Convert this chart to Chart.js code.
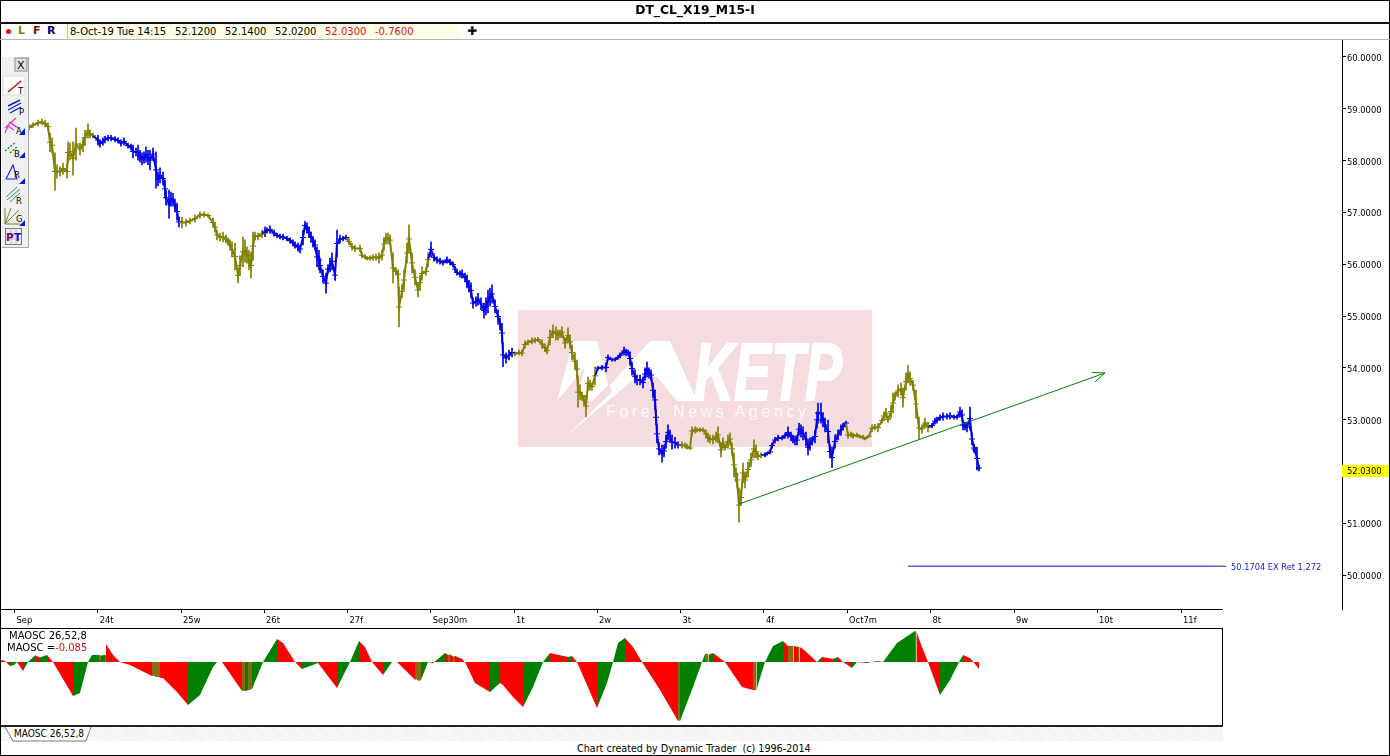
<!DOCTYPE html>
<html><head><meta charset="utf-8">
<script src="https://cdn.jsdelivr.net/npm/chart.js@4/dist/chart.umd.min.js"></script>
<style>
html,body{margin:0;padding:0;background:#fff;overflow:hidden}
#page{position:relative;width:1390px;height:756px;background:#fff;overflow:hidden;font-family:"DejaVu Sans",sans-serif;font-size:10px;color:#000}
#page div,#page canvas,#page svg{position:absolute}
.t{white-space:pre;line-height:12px}
</style></head><body>
<div id="page">
<div id="wm" style="left:518px;top:310px;width:354px;height:137px;background:#f4dcdf"></div>
<svg style="left:518px;top:310px" width="354" height="137" viewBox="518 310 354 137">
<polygon fill="#fff" points="557,401 573,341 597,341 608,385 592,401 577,401 585,367"/>
<polygon fill="#fff" points="597,341 610,385 650,341 670,341 697,401 677,401 657,377 633,380 565,437 612,392"/>
<text x="694" y="400" fill="#fff" stroke="#fff" stroke-width="2" fill-opacity=".96" font-family="Liberation Sans" font-weight="bold" font-style="italic" font-size="82" textLength="148" lengthAdjust="spacingAndGlyphs">KETP</text>
<text x="606" y="417" fill="#fff" fill-opacity=".85" font-family="Liberation Sans" font-size="16" textLength="200">Forex News Agency</text>
</svg>
<canvas id="priceChart" width="1390" height="588" style="left:0;top:40px;width:1390px;height:588px"></canvas>
<div style="left:0;top:609px;width:1223px;height:1px;background:#000"></div>
<canvas id="oscChart" width="1222" height="98" style="left:0;top:628px;width:1222px;height:98px"></canvas>
<div style="left:0;top:628px;width:1223px;height:1px;background:#000"></div>
<div style="left:1222px;top:628px;width:1px;height:98px;background:#000"></div>
<div style="left:0;top:725px;width:1223px;height:2px;background:#222"></div>
<div style="left:0;top:727px;width:1223px;height:14px;background:repeating-linear-gradient(45deg,#f2f2f2 0 1px,#fafafa 1px 2px)"></div>
<svg style="left:0;top:727px" width="100" height="15"><path d="M5 0L13 14H86L91 0" fill="#fff" stroke="#777"/></svg>
<div class="t" style="left:14px;top:728px;font-family:'DejaVu Sans Condensed','DejaVu Sans',sans-serif">MAOSC 26,52,8</div>
<div class="t" style="left:9px;top:630px">MAOSC 26,52,8</div>
<div class="t" style="left:7px;top:642px">MAOSC =<span style="color:#e01020">-0.085</span></div>
<div class="t" style="left:577px;top:743px;font-size:9.6px">Chart created by Dynamic Trader  (c) 1996-2014</div>
<!-- window chrome -->
<div style="left:0;top:0;width:1390px;height:1px;background:#000"></div>
<div style="left:0;top:755px;width:1390px;height:1px;background:#000"></div>
<div style="left:0;top:0;width:1px;height:756px;background:#000"></div>
<div style="left:1389px;top:0;width:1px;height:756px;background:#000"></div>
<div style="left:0;top:22px;width:1390px;height:2px;background:#111"></div>
<div style="left:0;top:39px;width:1390px;height:1px;background:#b4b4b4"></div>
<div class="t" style="left:0;width:1390px;top:4px;text-align:center;font-weight:bold;font-size:12.3px">DT_CL_X19_M15-I</div>
<div style="left:6px;top:29px;width:5px;height:5px;border-radius:50%;background:#e01010"></div>
<div class="t" style="left:18px;top:25px;font-weight:bold;font-size:11px;color:#808000">L</div>
<div class="t" style="left:33px;top:25px;font-weight:bold;font-size:11px;color:#800000">F</div>
<div class="t" style="left:47px;top:25px;font-weight:bold;font-size:11px;color:#000080">R</div>
<div style="left:67px;top:24px;width:391px;height:15px;background:#ffffe8;border-left:1px solid #bbb"></div>
<div class="t" style="left:70px;top:26px">8-Oct-19 Tue 14:15</div>
<div class="t" style="left:175px;top:26px">52.1200</div>
<div class="t" style="left:225px;top:26px">52.1400</div>
<div class="t" style="left:275px;top:26px">52.0200</div>
<div class="t" style="left:325px;top:26px;color:#e01010">52.0300</div>
<div class="t" style="left:375px;top:26px;color:#e01010">-0.7600</div>
<div class="t" style="left:467px;top:25px;font-weight:bold;font-size:12px">✚</div>
<!-- tool palette -->
<svg style="left:2px;top:57px" width="28" height="192" viewBox="2 57 28 192" font-family="DejaVu Sans" font-size="8.5">
<rect x="2" y="57" width="26" height="190" fill="#f0f0f0"/>
<path d="M28.5 57V247.5H2" fill="none" stroke="#a8a8a8"/>
<rect x="15" y="58" width="12" height="13" fill="#e0e0e0" stroke="#888"/><text x="17" y="69" font-size="11">X</text>
<rect x="3" y="76" width="22" height="19" fill="#fbfbfb" stroke="#ddd"/>
<path d="M8 92L21 81" stroke="#e01010" stroke-width="1.6"/><text x="18" y="94">T</text>
<path d="M8 106L20 100M8 110L21 103M10 113L21 107" stroke="#1020d0" stroke-width="1.4"/><text x="19" y="115">P</text>
<path d="M5 128L16 118M5 133L10 122L18 128M8 126L14 130M11 123L16 127" stroke="#e030d0" stroke-width="1.1" fill="none"/><text x="16" y="134">A</text>
<path d="M5 151L16 142M10 153L17 147" stroke="#108020" stroke-width="1.2" stroke-dasharray="2 1.5"/><text x="14" y="157">B</text>
<path d="M6 179L13 165L17 179H6" stroke="#1020d0" stroke-width="1.1" fill="none"/><text x="14" y="178">R</text>
<path d="M6 197L17 187M7 200L20 189M10 202L20 193" stroke="#209090" fill="none"/><text x="16" y="204">R</text>
<path d="M5 208V224H20M5 224L11 208M5 224L19 210" stroke="#808020" fill="none"/><text x="16" y="222">G</text>
<path d="M25 135V128L19 135ZM25 158V152L19 158ZM25 184V178L19 184ZM25 226V220L19 226Z" fill="#1010e0"/>
<rect x="5.5" y="228.5" width="16" height="16" fill="#eee" stroke="#777"/>
<path d="M5 234H22M5 239H22M11 228V245M16 228V245" stroke="#aaa" stroke-width=".7"/>
<text x="6" y="241" font-size="10.5" font-weight="bold" fill="#800080">P</text><text x="14" y="241" font-size="10.5" font-weight="bold" fill="#1010e0">T</text>
</svg>
</div>
<script>
// ---------- price pane data (15-minute bars, sampled along the slot axis) ----------
const barSlots=[29,33,38,42,45,48,50,52,55,57,60,63,67,68,70,73,76,80,83,85,88,90,93,
98,100,103,105,108,111,115,118,121,124,128,131,133,136,138,140,142,144,146,148,150,153,156,158,160,163,165,166,169,171,173,175,177,179,
182,186,190,195,200,204,208,213,215,217,220,223,226,228,230,232,235,238,240,243,245,247,249,251,253,255,258,262,
265,267,270,274,277,280,283,287,290,293,295,298,300,303,305,307,309,311,313,315,317,319,320,323,326,328,330,332,335,337,340,343,346,
349,352,355,360,362,365,367,370,373,376,379,382,384,386,388,390,393,396,398,399,402,404,407,409,412,415,418,420,422,426,428,
431,434,437,440,443,447,450,453,455,457,460,462,465,467,469,471,473,476,478,481,484,486,488,490,492,495,498,500,502,503,506,509,512,
515,519,522,525,528,532,535,538,542,545,547,550,553,556,558,560,562,565,568,570,572,575,577,578,580,582,584,586,588,590,592,595,
598,602,606,608,612,615,618,620,624,626,628,630,632,635,637,640,643,645,647,649,651,653,655,656,657,659,662,664,666,668,670,672,675,678,
682,685,687,690,692,695,697,700,703,706,708,710,713,716,718,721,723,725,728,730,732,734,736,737,739,741,743,745,748,751,754,756,758,761,
765,767,770,772,775,778,782,785,788,791,793,795,797,799,801,803,806,808,810,812,815,817,818,821,823,825,828,830,832,835,838,841,843,846,
848,851,853,857,860,863,865,869,872,875,878,882,884,886,888,891,893,895,898,901,903,906,908,910,913,916,919,922,925,928,
932,935,937,940,943,947,950,954,957,960,962,963,965,967,970,972,974,975,977,979];
const barHighs=[58.69,58.73,58.78,58.80,58.78,58.73,58.53,58.44,58.15,57.92,57.88,57.95,57.92,58.36,58.34,58.36,58.63,58.34,58.44,58.59,58.71,58.59,58.53,
58.49,58.40,58.44,58.47,58.49,58.49,58.46,58.44,58.40,58.44,58.34,58.32,58.30,58.24,58.30,58.20,58.15,58.17,58.26,58.20,58.20,58.24,58.17,57.78,57.86,57.78,57.63,57.43,57.43,57.39,57.37,57.24,57.18,56.91,
56.91,56.87,56.89,56.95,57.01,57.01,56.97,56.89,56.81,56.66,56.60,56.62,56.56,56.51,56.47,56.43,56.41,55.93,56.16,56.53,56.47,56.33,56.27,56.22,56.62,56.62,56.60,56.66,
56.72,56.70,56.74,56.66,56.60,56.58,56.58,56.54,56.51,56.47,56.43,56.41,56.37,56.66,56.83,56.80,56.72,56.62,56.53,56.47,56.33,56.27,56.12,55.89,55.83,55.98,56.12,56.22,55.89,56.66,56.56,56.54,56.56,
56.51,56.41,56.37,56.37,56.22,56.18,56.14,56.16,56.18,56.20,56.22,56.27,56.51,56.60,56.60,56.56,56.22,55.93,55.89,55.56,55.60,55.89,56.41,56.76,56.22,55.89,55.64,55.79,55.95,55.93,56.22,
56.43,56.20,56.14,56.12,56.08,56.14,56.10,56.04,55.96,55.89,55.87,55.89,55.83,55.79,55.69,55.64,55.35,55.37,55.44,55.35,55.25,55.35,55.50,55.54,55.60,55.31,55.12,54.96,54.86,54.48,54.29,54.34,54.38,
54.31,54.34,54.34,54.52,54.54,54.58,54.58,54.59,54.54,54.46,54.40,54.73,54.83,54.79,54.73,54.73,54.79,54.58,54.77,54.63,54.44,54.29,54.15,53.82,53.67,53.53,53.47,53.47,53.82,53.76,53.71,54.02,
54.03,54.05,54.09,54.25,54.19,54.19,54.23,54.29,54.40,54.36,54.34,54.31,54.11,53.96,53.86,53.86,53.82,54.00,54.11,54.00,53.96,53.71,53.57,53.19,52.90,52.55,52.51,52.51,52.70,52.90,52.80,52.70,52.66,52.57,
52.57,52.55,52.53,52.47,52.86,52.86,52.84,52.84,52.84,52.80,52.74,52.70,52.70,52.76,52.86,52.55,52.65,52.51,52.70,52.74,52.55,52.36,52.07,51.97,51.68,51.64,52.16,51.99,52.18,52.36,52.61,52.51,52.36,52.36,
52.36,52.37,52.41,52.55,52.66,52.70,52.68,52.74,52.86,52.76,52.70,52.68,52.70,52.93,52.90,52.86,52.76,52.61,52.65,52.66,52.80,53.15,53.32,53.32,53.13,53.03,52.99,52.51,52.47,52.70,52.80,52.90,52.93,52.97,
52.76,52.76,52.74,52.74,52.70,52.70,52.66,52.70,52.90,52.91,52.93,53.03,53.15,53.22,53.05,53.28,53.51,53.53,53.67,53.71,53.61,53.90,54.05,53.92,53.76,53.57,53.05,52.90,53.03,52.95,
52.93,53.03,53.05,53.09,53.13,53.11,53.13,53.09,53.09,53.24,53.19,52.99,52.95,52.95,53.24,52.74,52.53,52.47,52.47,52.12];
const barLows=[58.59,58.64,58.67,58.69,58.65,58.59,58.17,58.15,57.43,57.66,57.70,57.74,57.66,57.95,58.01,57.72,58.01,58.11,58.17,58.30,58.44,58.44,58.44,
58.30,58.26,58.30,58.34,58.38,58.38,58.36,58.34,58.28,58.30,58.24,58.20,58.05,58.09,58.01,57.97,57.92,57.95,57.97,57.92,57.82,58.01,57.47,57.51,57.57,57.53,57.28,57.14,56.89,57.12,57.14,57.01,56.85,56.72,
56.70,56.74,56.78,56.81,56.89,56.91,56.91,56.72,56.62,56.47,56.45,56.43,56.41,56.37,56.27,56.14,55.89,55.64,55.79,55.95,56.04,56.02,55.89,55.73,56.08,56.47,56.47,56.51,
56.53,56.60,56.60,56.54,56.51,56.49,56.47,56.45,56.41,56.35,56.31,56.25,56.22,56.37,56.66,56.60,56.51,56.43,56.33,56.27,55.95,55.89,55.83,55.64,55.44,55.83,55.85,55.89,55.69,56.14,56.41,56.45,56.47,
56.37,56.27,56.24,56.24,56.12,56.10,56.08,56.08,56.08,56.08,56.02,56.08,56.27,56.41,56.39,56.37,55.64,55.79,55.73,54.79,55.35,55.50,56.02,56.22,55.83,55.60,55.37,55.50,55.69,55.79,55.95,
56.14,56.06,56.02,56.00,55.98,56.02,55.98,55.95,55.85,55.79,55.75,55.73,55.66,55.54,55.46,55.35,55.15,55.19,55.21,55.12,54.96,55.02,55.06,55.19,55.25,55.06,54.86,54.73,54.48,54.02,54.09,54.15,54.21,
54.23,54.25,54.23,54.38,54.44,54.46,54.48,54.50,54.38,54.31,54.27,54.44,54.58,54.54,54.54,54.58,54.58,54.38,54.48,54.38,54.15,53.96,53.80,53.24,53.38,53.38,53.28,53.05,53.57,53.57,53.57,53.67,
53.96,53.96,53.92,54.15,54.13,54.13,54.17,54.19,54.25,54.23,54.25,54.05,53.86,53.71,53.67,53.67,53.61,53.76,53.82,53.80,53.76,53.42,53.19,52.90,52.55,52.32,52.18,52.28,52.45,52.61,52.57,52.43,52.45,52.45,
52.45,52.45,52.43,52.43,52.70,52.74,52.76,52.76,52.76,52.64,52.57,52.55,52.53,52.57,52.55,52.28,52.45,52.41,52.45,52.51,52.32,51.89,51.80,51.70,51.02,51.35,51.78,51.68,51.89,52.09,52.26,52.26,52.22,52.26,
52.28,52.32,52.34,52.45,52.55,52.59,52.61,52.64,52.64,52.59,52.55,52.51,52.51,52.70,52.66,52.61,52.49,52.32,52.41,52.51,52.55,52.84,52.93,52.93,52.86,52.76,52.55,52.26,52.07,52.45,52.61,52.70,52.80,52.90,
52.64,52.66,52.64,52.66,52.64,52.62,52.61,52.66,52.76,52.80,52.76,52.93,52.99,53.03,52.95,53.03,53.13,53.38,53.44,53.47,53.24,53.57,53.71,53.67,53.57,53.03,52.63,52.74,52.84,52.76,
52.84,52.91,52.93,52.99,52.99,53.01,53.01,53.01,53.01,53.05,52.99,52.80,52.80,52.76,52.80,52.51,52.37,52.35,52.03,52.01];
const dayTicks=[14.5,97.7,181,264,347.5,430.7,514,597,680.5,764,847,930.5,1014,1097,1181];
const dayLabels=["Sep","24t","25w","26t","27f","Sep30m","1t","2w","3t","4f","Oct7m","8t","9w","10t","11f"];
const dayColors=["#808000","#0000e6"];
const priceTicks=[60,59,58,57,56,55,54,53,52.03,51,50];
const lastClose=52.03;
const trendSlots=[739,1105];
const trendPrices=[51.37,53.90];
const targetSlots=[908,1226];
const targetPrice=50.1704;
const targetLabel="50.1704 EX Ret 1.272";
// ---------- oscillator pane data ----------
const oscSlots=[1,5,10,14,17,23,28,35,40,47,53,73,80,88,92,99,101,105,106,113,120,130,152,154,156,158,160,163,177,188,200,213,217,222,242,244,245,248,249.5,252,263,277,283,295,302,318,337,350,359,365,372,383,392,397,415,416.5,419,421,428,433,445,448,450,453,455,462,465,475,490,500,503,513,523,533,543,550,568,572,577,597,607,613,618,625,633,642,660,678,679,680,693,702,705,707,708.5,713,725,742,753,755,756.5,760,765,773,783,788,789.5,792,793.5,798,799.5,803,817,822,833,838,843,852,857,867,877,883,897,915,916.5,922,928,940,950,959,963,970,979];
const oscValues=[.024,.012,-.049,-.037,0,-.110,0,.079,.055,.085,0,-.415,-.378,0,.085,.085,.08,.085,.22,.085,0,-.037,-.171,-.167,-.183,-.181,-.192,-.195,-.366,-.525,-.403,-.061,0,0,-.354,-.351,-.356,-.342,-.345,-.329,0,.281,.232,0,-.085,-.012,-.317,0,.256,.183,0,-.159,0,0,-.215,-.21,-.232,-.22,0,-.012,.11,.085,.091,.067,.073,.037,0,-.256,-.366,-.256,-.281,-.427,-.549,-.305,0,.11,.061,.073,0,-.561,-.256,0,.232,.293,.183,0,-.342,-.72,-.71,-.72,-.305,0,.098,.1,.09,.11,0,-.305,-.342,-.34,-.345,-.195,0,.195,.256,.195,.199,.195,.198,.183,.187,.159,0,.061,.037,.061,0,-.073,0,-.012,.012,0,.232,.378,.37,.183,0,-.403,-.22,0,.085,.049,-.085];
const oscRed="#ff0000", oscGreen="#008000", oscBrown="#8a6a10";

const FONT={family:'"DejaVu Sans Condensed","DejaVu Sans",sans-serif',size:9.3};
const dayColorAt=x=>{let d=0;for(let i=0;i<dayTicks.length;i++){if(x>=dayTicks[i])d=i;}return dayColors[d%2];};
const zip=(xs,ys)=>xs.map((x,i)=>({x,y:ys[i]}));

const annotate={id:'annotate',afterDatasetsDraw(c){
  const {ctx,scales:{x,y}}=c;
  const ax=x.getPixelForValue(trendSlots[0]),ay=y.getPixelForValue(trendPrices[0]);
  const bx=x.getPixelForValue(trendSlots[1]),by=y.getPixelForValue(trendPrices[1]);
  const a=Math.atan2(by-ay,bx-ax),L=13;
  ctx.save();ctx.strokeStyle="#008000";ctx.lineWidth=1;ctx.beginPath();
  ctx.moveTo(bx-L*Math.cos(a-.38),by-L*Math.sin(a-.38));ctx.lineTo(bx,by);
  ctx.lineTo(bx-L*Math.cos(a+.38),by-L*Math.sin(a+.38));ctx.stroke();
  ctx.fillStyle="#1a1ad0";ctx.font='9.2px "DejaVu Sans Condensed","DejaVu Sans",sans-serif';ctx.textBaseline='middle';ctx.textAlign='left';
  ctx.fillText(targetLabel,x.getPixelForValue(targetSlots[1])+5,y.getPixelForValue(targetPrice)+1);
  ctx.restore();
}};

new Chart(document.getElementById('priceChart'),{
  type:'bar',
  data:{datasets:[
    {type:'bar',label:'High-Low',data:barSlots.map((x,i)=>({x,y:[barLows[i],barHighs[i]]})),
     barThickness:1,backgroundColor:c=>dayColorAt(barSlots[c.dataIndex]),order:3},
    {type:'line',label:'Mid',data:zip(barSlots,barHighs.map((h,i)=>(h+barLows[i])/2)),
     borderWidth:2,tension:0,pointStyle:'line',pointRadius:3,pointHoverRadius:3,pointBorderWidth:1,
     pointBorderColor:c=>dayColorAt(barSlots[c.dataIndex]),
     segment:{borderColor:c=>dayColorAt(c.p1.parsed.x)},order:2},
    {type:'line',label:'Trend',data:zip(trendSlots,trendPrices),borderColor:'#008000',borderWidth:1,pointRadius:0,order:1},
    {type:'line',label:'Target',data:targetSlots.map(x=>({x,y:targetPrice})),borderColor:'#1010a0',borderWidth:1,pointRadius:0,order:1}
  ]},
  plugins:[annotate],
  options:{responsive:false,animation:false,devicePixelRatio:1,
    layout:{padding:0,autoPadding:false},
    plugins:{legend:{display:false},tooltip:{enabled:false}},
    scales:{
      x:{type:'linear',min:0,max:1342,offset:false,
        grid:{drawOnChartArea:false,drawTicks:true,tickLength:4,tickColor:'#000',offset:false},
        border:{display:false},
        afterFit(s){s.height=19;s.paddingLeft=0;s.paddingRight=0;},
        afterBuildTicks(s){s.ticks=dayTicks.map(value=>({value}));},
        ticks:{autoSkip:false,maxRotation:0,minRotation:0,align:'start',labelOffset:2,padding:2,color:'#000',font:FONT,
          callback:(v)=>dayLabels[dayTicks.indexOf(v)]}},
      y:{type:'linear',position:'right',min:49.344,max:60.328,
        grid:{drawOnChartArea:false,tickLength:4,tickColor:c=>c.tick&&c.tick.value===lastClose?'rgba(0,0,0,0)':'#000'},
        border:{display:true,color:'#000',width:1},
        afterFit(s){s.width=48;s.paddingTop=0;s.paddingBottom=0;},
        afterBuildTicks(s){s.ticks=priceTicks.map(value=>({value}));},
        ticks:{autoSkip:false,padding:1,labelOffset:1.5,color:'#000',font:FONT,
          showLabelBackdrop:c=>c.tick.value===lastClose,backdropColor:'#ffff00',
          backdropPadding:{left:6,right:8,top:1,bottom:0},
          callback:v=>v.toFixed(4)}}
    }}
});

new Chart(document.getElementById('oscChart'),{
  type:'line',
  data:{datasets:[{label:'MAOSC',data:zip(oscSlots,oscValues),borderWidth:0,pointRadius:0,tension:0,
    fill:{value:0},backgroundColor:oscRed,
    segment:{backgroundColor:c=>{
      const dx=c.p1.parsed.x-c.p0.parsed.x;
      if(dx<=2.5) return oscBrown;
      return c.p1.parsed.y>=c.p0.parsed.y?oscGreen:oscRed;
    },borderColor:'rgba(0,0,0,0)'}}]},
  options:{responsive:false,animation:false,devicePixelRatio:1,layout:{padding:0,autoPadding:false},
    plugins:{legend:{display:false},tooltip:{enabled:false}},
    scales:{x:{type:'linear',display:false,min:0,max:1222},
            y:{type:'linear',display:false,min:-0.78,max:0.415}}}
});
</script>
</body></html>
